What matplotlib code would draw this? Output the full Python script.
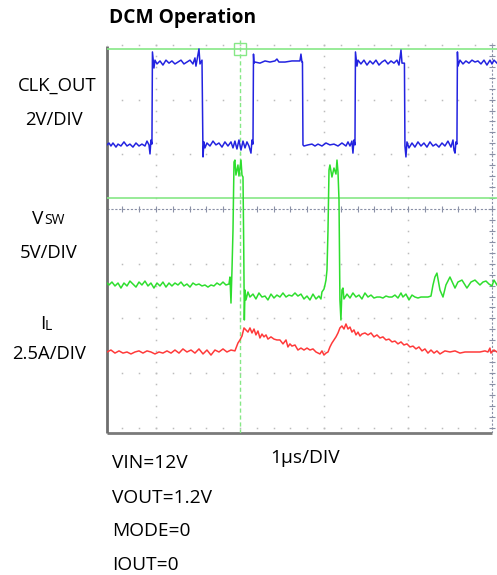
import numpy as np
import matplotlib.pyplot as plt

# Scope capture: time in microseconds (1 us/DIV), trigger cursor at t = 0.
# Channel offsets / scales in screen divisions.
CLK_SCALE = 2.0      # V/DIV
CLK_OFFSET = 1.207   # div, ground reference on screen
VSW_SCALE = 5.0      # V/DIV
VSW_OFFSET = -1.353
IL_SCALE = 2.5       # A/DIV
IL_OFFSET = -2.614

# CLK_OUT (V)
clk_t = [-1.583, -1.560, -1.536, -1.512, -1.476, -1.452, -1.417, -1.381, -1.345, -1.310,
         -1.274, -1.238, -1.202, -1.167, -1.131, -1.107, -1.083, -1.071, -1.060, -1.048,
         -1.042, -1.024, -1.012, -0.988, -0.952, -0.917, -0.881, -0.845, -0.810, -0.774,
         -0.738, -0.702, -0.667, -0.631, -0.595, -0.560, -0.536, -0.524, -0.500, -0.488,
         -0.476, -0.464, -0.452, -0.440, -0.429, -0.417, -0.393, -0.357, -0.321, -0.286,
         -0.250, -0.214, -0.179, -0.143, -0.107, -0.083, -0.060, -0.036, -0.012, 0.012,
         0.036, 0.060, 0.083, 0.107, 0.131, 0.143, 0.155, 0.161, 0.167, 0.179,
         0.238, 0.298, 0.357, 0.417, 0.440, 0.464, 0.536, 0.619, 0.714, 0.726,
         0.738, 0.744, 0.750, 0.762, 0.810, 0.857, 0.893, 0.929, 0.976, 1.024,
         1.071, 1.119, 1.167, 1.214, 1.262, 1.286, 1.310, 1.333, 1.345, 1.357,
         1.369, 1.375, 1.393, 1.405, 1.440, 1.476, 1.512, 1.548, 1.583, 1.619,
         1.655, 1.690, 1.726, 1.762, 1.798, 1.833, 1.869, 1.893, 1.905, 1.917,
         1.929, 1.958, 1.964, 1.976, 1.988, 2.012, 2.048, 2.083, 2.119, 2.155,
         2.190, 2.226, 2.262, 2.298, 2.333, 2.369, 2.405, 2.440, 2.476, 2.512,
         2.536, 2.548, 2.560, 2.571, 2.583, 2.589, 2.595, 2.619, 2.655, 2.690,
         2.726, 2.762, 2.798, 2.833, 2.869, 2.905, 2.940, 2.976, 3.000, 3.024, 3.060]
clk_v = [-0.07, 0.00, -0.11, 0.00, -0.15, -0.04, -0.11, 0.04, -0.11, -0.04,
         -0.15, 0.00, -0.11, -0.04, -0.11, 0.07, -0.07, -0.40, 0.11, -0.04,
         3.33, 2.74, 3.03, 2.89, 3.00, 2.85, 3.03, 2.92, 3.00, 2.89,
         2.96, 3.03, 2.89, 2.96, 3.03, 2.89, 3.11, 2.81, 3.22, 3.44,
         2.89, 2.96, 3.03, -0.51, 0.04, -0.18, 0.00, -0.11, 0.07, -0.07,
         0.00, -0.15, 0.04, -0.11, 0.04, -0.18, 0.07, -0.22, 0.11, -0.26,
         0.07, -0.18, 0.04, -0.11, -0.37, 0.11, -0.04, 3.25, 2.92, 2.96,
         2.92, 3.00, 2.96, 3.00, 3.07, 2.96, 2.96, 3.00, 3.00, 3.25,
         2.96, 2.96, -0.07, -0.11, -0.07, -0.04, -0.11, -0.04, -0.11, 0.00,
         -0.07, -0.04, -0.11, 0.00, -0.11, 0.04, -0.11, 0.07, -0.37, 0.11,
         -0.07, 3.33, 2.81, 3.03, 2.89, 3.03, 2.85, 3.00, 2.89, 3.03,
         2.85, 2.96, 3.03, 2.89, 3.00, 2.92, 3.03, 2.85, 3.11, 3.40,
         2.92, 2.92, -0.11, -0.51, 0.04, -0.18, 0.00, -0.15, 0.04, -0.11,
         0.00, -0.15, 0.04, -0.11, -0.04, -0.15, 0.00, -0.11, 0.07, -0.15,
         0.11, -0.26, -0.37, 0.04, -0.04, 3.33, 2.81, 3.03, 2.89, 3.00,
         2.92, 3.03, 2.96, 3.00, 2.89, 3.03, 2.85, 3.03, 2.89, 3.03, 2.92]

# VSW (V)
vsw_t = [-1.583, -1.560, -1.524, -1.488, -1.452, -1.417, -1.381, -1.345, -1.310, -1.274,
         -1.238, -1.202, -1.167, -1.131, -1.095, -1.060, -1.024, -0.988, -0.952, -0.917,
         -0.881, -0.845, -0.810, -0.774, -0.738, -0.702, -0.667, -0.631, -0.595, -0.560,
         -0.524, -0.488, -0.452, -0.417, -0.381, -0.345, -0.310, -0.274, -0.238, -0.202,
         -0.167, -0.131, -0.119, -0.107, -0.095, -0.083, -0.071, -0.060, -0.048, -0.036,
         -0.024, -0.012, 0.000, 0.012, 0.024, 0.036, 0.044, 0.052, 0.060, 0.071,
         0.095, 0.119, 0.155, 0.190, 0.226, 0.262, 0.298, 0.333, 0.369, 0.405,
         0.440, 0.476, 0.512, 0.548, 0.583, 0.619, 0.655, 0.690, 0.726, 0.762,
         0.798, 0.833, 0.869, 0.905, 0.940, 0.964, 0.976, 1.000, 1.012, 1.024,
         1.036, 1.048, 1.060, 1.071, 1.095, 1.119, 1.143, 1.155, 1.167, 1.179,
         1.190, 1.202, 1.214, 1.226, 1.238, 1.274, 1.310, 1.345, 1.381, 1.417,
         1.452, 1.488, 1.524, 1.560, 1.595, 1.631, 1.667, 1.702, 1.738, 1.774,
         1.810, 1.845, 1.881, 1.917, 1.940, 1.976, 2.012, 2.048, 2.083, 2.119,
         2.155, 2.190, 2.238, 2.274, 2.298, 2.321, 2.345, 2.381, 2.417, 2.452,
         2.500, 2.560, 2.595, 2.643, 2.702, 2.750, 2.798, 2.857, 2.893, 2.929,
         2.964, 3.000, 3.024, 3.060]
vsw_v = [0.00, -0.18, 0.09, -0.27, 0.00, -0.46, 0.00, -0.27, 0.18, -0.09,
         -0.37, 0.09, -0.18, 0.18, -0.27, 0.00, -0.46, 0.00, -0.27, 0.09,
         -0.37, 0.00, -0.27, 0.00, -0.18, 0.09, -0.27, -0.09, -0.37, 0.00,
         -0.18, -0.09, -0.27, -0.18, -0.37, -0.18, -0.27, 0.00, -0.18, 0.09,
         -0.18, -0.09, 0.55, -1.83, 1.19, 4.84, 11.06, 11.24, 9.87, 10.33,
         10.79, 9.78, 10.51, 11.24, 9.87, 9.69, 3.93, -3.38, -0.64, -1.55,
         -0.82, -1.28, -1.01, -1.46, -0.91, -1.28, -1.19, -1.55, -1.01, -1.37,
         -1.10, -1.28, -0.91, -1.28, -1.10, -1.19, -0.91, -1.19, -1.01, -1.46,
         -1.19, -1.55, -1.01, -1.46, -1.19, -1.46, -0.82, -0.55, -0.18, 0.27,
         1.19, 4.84, 10.33, 10.79, 9.69, 10.51, 9.96, 11.24, 10.15, 7.59,
         -1.55, -3.38, -0.64, -0.46, -1.46, -1.01, -1.37, -0.91, -1.28, -1.10,
         -1.46, -0.91, -1.28, -1.10, -1.37, -1.28, -1.28, -1.37, -1.19, -1.28,
         -1.28, -1.10, -1.37, -0.91, -1.28, -1.01, -1.55, -1.10, -1.28, -1.37,
         -1.28, -1.28, -1.28, -1.19, -0.18, 0.55, 0.91, -0.64, -1.28, -0.18,
         0.55, -0.46, 0.09, 0.27, -0.46, 0.09, 0.27, -0.18, 0.09, 0.18,
         -0.09, -0.27, 0.27, -0.18]

# Inductor current IL (A)
il_t = [-1.583, -1.536, -1.488, -1.440, -1.393, -1.345, -1.298, -1.250, -1.202, -1.155,
        -1.107, -1.060, -1.012, -0.964, -0.917, -0.869, -0.821, -0.774, -0.726, -0.679,
        -0.631, -0.583, -0.536, -0.488, -0.440, -0.393, -0.345, -0.298, -0.250, -0.202,
        -0.155, -0.107, -0.060, -0.024, 0.000, 0.024, 0.048, 0.071, 0.095, 0.119,
        0.143, 0.167, 0.190, 0.214, 0.238, 0.262, 0.286, 0.310, 0.333, 0.369,
        0.405, 0.440, 0.476, 0.512, 0.548, 0.571, 0.595, 0.619, 0.655, 0.690,
        0.726, 0.762, 0.798, 0.833, 0.869, 0.905, 0.952, 0.976, 1.000, 1.024,
        1.048, 1.071, 1.095, 1.119, 1.143, 1.167, 1.190, 1.214, 1.238, 1.262,
        1.286, 1.310, 1.333, 1.357, 1.381, 1.405, 1.429, 1.452, 1.488, 1.524,
        1.560, 1.595, 1.631, 1.667, 1.702, 1.738, 1.774, 1.810, 1.845, 1.881,
        1.917, 1.952, 1.988, 2.024, 2.060, 2.095, 2.131, 2.167, 2.202, 2.238,
        2.274, 2.310, 2.345, 2.381, 2.440, 2.500, 2.560, 2.619, 2.679, 2.738,
        2.798, 2.857, 2.917, 2.952, 2.976, 2.988, 3.024, 3.060]
il_a = [0.00, 0.09, -0.05, 0.05, -0.05, 0.00, -0.09, 0.00, 0.05, -0.05,
        0.05, 0.00, -0.09, 0.00, -0.05, 0.05, -0.05, 0.09, -0.05, 0.14,
        0.00, 0.09, -0.05, 0.14, -0.09, 0.09, -0.14, 0.09, 0.00, 0.14,
        0.00, 0.09, 0.05, 0.41, 0.55, 0.73, 1.10, 1.01, 0.91, 1.10,
        0.87, 1.05, 0.78, 0.96, 0.64, 0.82, 0.69, 0.78, 0.59, 0.69,
        0.59, 0.55, 0.55, 0.37, 0.55, 0.23, 0.37, 0.27, 0.32, 0.09,
        0.18, 0.09, 0.18, 0.09, 0.14, 0.00, -0.09, 0.05, -0.14, -0.05,
        0.00, 0.23, 0.41, 0.55, 0.69, 0.87, 1.10, 1.19, 1.05, 1.28,
        1.05, 1.14, 0.91, 1.01, 0.78, 0.91, 0.73, 0.82, 0.87, 0.78,
        0.87, 0.69, 0.78, 0.64, 0.69, 0.55, 0.59, 0.46, 0.50, 0.37,
        0.46, 0.32, 0.37, 0.23, 0.27, 0.14, 0.23, 0.05, 0.14, -0.05,
        0.09, -0.05, 0.05, -0.09, 0.05, 0.00, 0.05, -0.05, 0.00, 0.00,
        0.00, 0.00, 0.05, 0.00, 0.18, -0.05, 0.09, 0.00]

# Cursor levels (div)
CURSOR_TOP = 2.925
CURSOR_MID = 0.201

X_MIN, X_MAX = -1.583, 3.06
Y_MIN, Y_MAX = -4.095, 3.09

W, H = 497, 575
fig = plt.figure(figsize=(W / 100, H / 100), dpi=100)
plt.rcParams["font.family"] = ["Open Sans", "DejaVu Sans"]

ax = fig.add_axes([107 / W, 1 - 433 / H, (W - 107) / W, (433 - 40) / H])
ax.set_xlim(X_MIN, X_MAX)
ax.set_ylim(Y_MIN, Y_MAX)
ax.axis("off")

# MARK: grid dots
grid_col = "#bcbcbc"
minor_x = np.arange(-14, 31) * 0.2
minor_y = np.arange(-20, 16) * 0.2
for row in range(-4, 4):
    if row == 0:
        continue
    ax.plot(minor_x, np.full_like(minor_x, row), ls="none", marker="s", ms=1.1,
            color=grid_col, mec="none")
for col in (-1, 1, 2):
    ax.plot(np.full_like(minor_y, col), minor_y, ls="none", marker="s", ms=1.1,
            color=grid_col, mec="none")

# center crosshair (dashed with minor ticks)
axis_col = "#8a90a6"
ax.plot([X_MIN, 3.0], [0, 0], color=axis_col, lw=0.8, ls=(0, (2, 1.5)))
ax.plot(minor_x[minor_x < 3.05], np.zeros(np.sum(minor_x < 3.05)), ls="none",
        marker="|", ms=4, mew=0.8, color=axis_col)
ax.plot([3.0, 3.0], [Y_MIN, Y_MAX - 0.05], color=axis_col, lw=0.8, ls=(0, (2, 1.5)))
ax.plot(np.full_like(minor_y, 3.0), minor_y, ls="none", marker="_", ms=5, mew=0.8,
        color=axis_col)

# frame
ax.plot([X_MIN, 3.0], [Y_MIN, Y_MIN], color="#7a7a7a", lw=2, clip_on=False,
        solid_capstyle="butt")
ax.plot([X_MIN, X_MIN], [Y_MIN, 2.98], color="#6e6e6e", lw=2, clip_on=False,
        solid_capstyle="butt")

# MARK: cursors
cur_col = "#86e886"
ax.plot([X_MIN, X_MAX], [CURSOR_TOP, CURSOR_TOP], color=cur_col, lw=1.2)
ax.plot([X_MIN, X_MAX], [CURSOR_MID, CURSOR_MID], color=cur_col, lw=1.2)
ax.plot([0, 0], [Y_MIN, Y_MAX], color=cur_col, lw=1.0, ls=(0, (3, 2)))
ax.plot([0], [CURSOR_TOP], marker="s", ms=8.5, mfc="none", mec=cur_col, mew=1.0)

# MARK: traces
ax.plot(clk_t, CLK_OFFSET + np.array(clk_v) / CLK_SCALE, color="#2323e0", lw=1.1)
ax.plot(vsw_t, VSW_OFFSET + np.array(vsw_v) / VSW_SCALE, color="#2ede2e", lw=1.1)
ax.plot(il_t, IL_OFFSET + np.array(il_a) / IL_SCALE, color="#ff3a3a", lw=1.1)


def px_text(x, y, s, **kw):
    fig.text(x / W, 1 - y / H, s, va="center", **kw)


# MARK: labels
px_text(109, 18, "DCM Operation", fontsize=13.8, fontweight="bold")
px_text(18, 86, "CLK_OUT", fontsize=13.3)
px_text(25, 120, "2V/DIV", fontsize=13.3)
px_text(32, 219, "V", fontsize=13.8)
px_text(44, 221, "SW", fontsize=10)
px_text(20, 253, "5V/DIV", fontsize=13.3)
px_text(40, 324, "I", fontsize=13.8)
px_text(45, 326, "L", fontsize=10)
px_text(12, 354, "2.5A/DIV", fontsize=13.3)

px_text(112, 463, "VIN=12V", fontsize=13.8)
px_text(112, 498, "VOUT=1.2V", fontsize=13.8)
px_text(112, 531, "MODE=0", fontsize=13.8)
px_text(112, 565, "IOUT=0", fontsize=13.8)
px_text(270, 458, "1\u00b5s/DIV", fontsize=13.8)

fig.savefig("out.png", dpi=100)
